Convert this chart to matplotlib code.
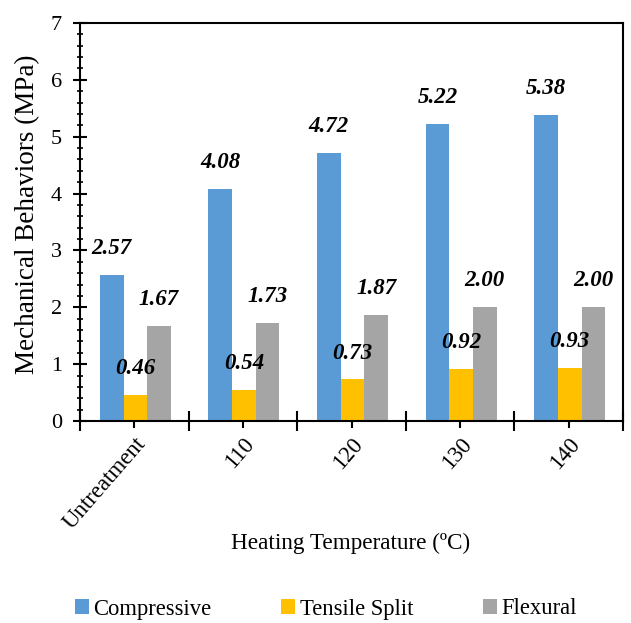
import matplotlib
matplotlib.use("Agg")
import matplotlib.pyplot as plt
import numpy as np
from matplotlib.ticker import MultipleLocator, FixedLocator

categories = ["Untreatment", "110", "120", "130", "140"]
compressive = [2.57, 4.08, 4.72, 5.22, 5.38]
tensile = [0.46, 0.54, 0.73, 0.92, 0.93]
flexural = [1.67, 1.73, 1.87, 2.00, 2.00]
series_names = ["Compressive", "Tensile Split", "Flexural"]
colors = ["#5B9BD5", "#FFC000", "#A5A5A5"]

plt.rcParams['font.family'] = ['Liberation Serif', 'DejaVu Serif']

fig = plt.figure(figsize=(6.31, 6.23), dpi=100)
ax = fig.add_axes([80/631, 1-421/623, (623-80)/631, (421-23)/623])

x = np.arange(len(categories))
w = 0.218
offs = [-w, 0, w]
series = [compressive, tensile, flexural]
bars = []
for vals, c, off, name in zip(series, colors, offs, series_names):
    b = ax.bar(x + off + 0.01, vals, width=w, color=c, label=name, zorder=2)
    bars.append(b)
    for xi, v in zip(x, vals):
        ax.annotate(f"{v:.2f}", (xi + off + 0.01, v), xytext=(0, 19), textcoords="offset points",
                    ha="center", va="center", fontsize=16.5, fontweight="bold", fontstyle="italic")

ax.set_xlim(-0.5, len(categories) - 0.5)
ax.set_ylim(0, 7)
ax.yaxis.set_major_locator(MultipleLocator(1))
ax.yaxis.set_minor_locator(MultipleLocator(0.2))
ax.tick_params(axis='y', which='major', direction='inout', length=10, width=1.5, labelsize=16, pad=8)
ax.tick_params(axis='y', which='minor', direction='inout', length=4.5, width=1.2)

ax.xaxis.set_major_locator(FixedLocator(np.arange(-0.5, len(categories), 1.0)))
ax.xaxis.set_minor_locator(FixedLocator(x))
ax.tick_params(axis='x', which='major', direction='inout', length=14, width=1.5, labelbottom=False)
ax.tick_params(axis='x', which='minor', direction='out', length=5, width=1.5, labelsize=16.5, pad=4)
ax.set_xticks(x, minor=True)
ax.set_xticklabels(categories, minor=True, rotation=49, ha='right', rotation_mode='anchor')

for sp in ax.spines.values():
    sp.set_linewidth(1.5)

fig.text(28/631, 1-214/623, "Mechanical Behaviors (MPa)", rotation=90,
         ha="center", va="center", fontsize=19.5)
fig.text(351/631, 1-543/623, "Heating Temperature (ºC)", ha="center", va="center", fontsize=16.7)

fig.legend(handles=bars, labels=series_names, loc="center left",
           bbox_to_anchor=(75/631, 1-609/623), ncol=3, frameon=False, fontsize=16.3,
           handlelength=0.6, handleheight=0.6, handletextpad=0.2, columnspacing=3.1,
           borderpad=0, borderaxespad=0)

fig.savefig("out.png", dpi=100)
